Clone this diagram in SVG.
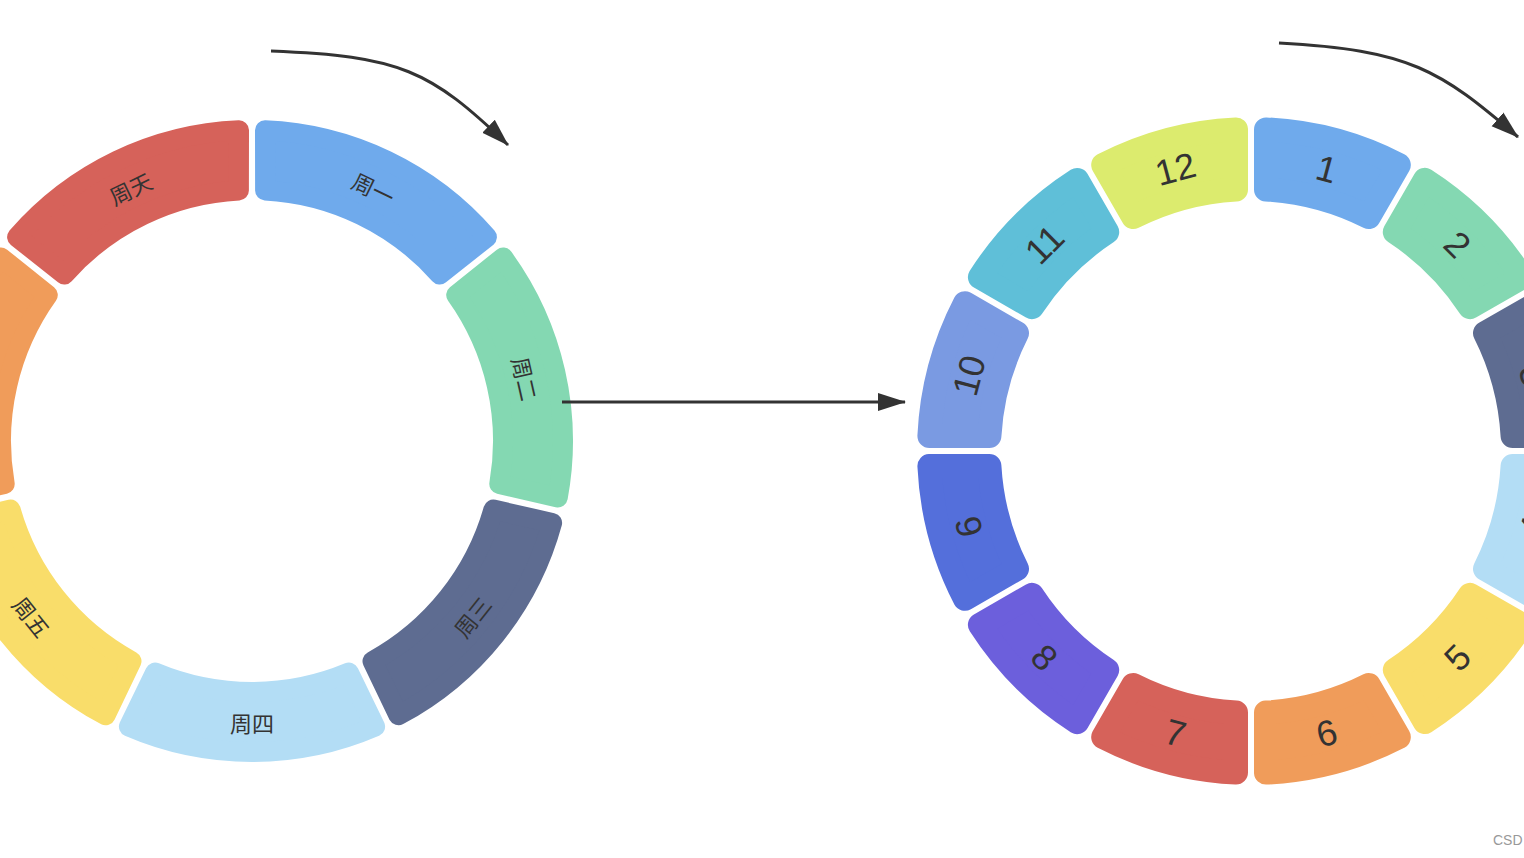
<svg xmlns="http://www.w3.org/2000/svg" width="1524" height="858" viewBox="0 0 1524 858">
<defs>
<style>
.s{stroke-linejoin:round}
.l{stroke-width:20}
.r{stroke-width:24}
.t{font-family:"Noto Sans CJK SC","Liberation Sans",sans-serif;font-size:22px;fill:#333;text-anchor:middle;dominant-baseline:central}
.n{font-family:"Liberation Sans","Noto Sans",sans-serif;font-size:36px;fill:#333;text-anchor:middle;dominant-baseline:central}
.c{fill:none;stroke:#333;stroke-width:3}
</style>
<marker id="ah" viewBox="0 0 28 20" refX="27" refY="10" markerWidth="28" markerHeight="20" markerUnits="userSpaceOnUse" orient="auto"><path d="M0,1 L28,10 L0,19 z" fill="#333"/></marker>
</defs>
<rect width="1524" height="858" fill="#fff"/>
<g id="week">
<g id="w1"><path class="s l" fill="#6FAAEC" stroke="#6FAAEC" d="M265,130.3 A311,311 0 0 1 486.9,237.1 L439.8,274.5 A251,251 0 0 0 265.1,190.4 Z"/><text class="t" transform="translate(373.9,187.8) rotate(25.71)">周一</text></g>
<g id="w2"><path class="s l" fill="#84D8B2" stroke="#84D8B2" d="M503.1,257.5 A311,311 0 0 1 557.8,497.4 L499.3,484 A251,251 0 0 0 456.2,295 Z"/><text class="t" transform="translate(525.9,378.5) rotate(77.14)">周二</text></g>
<g id="w3"><path class="s l" fill="#5E6C91" stroke="#5E6C91" d="M552.1,522.9 A311,311 0 0 1 398.5,715.3 L372.5,661.2 A251,251 0 0 0 493.4,509.6 Z"/><text class="t" transform="translate(471.7,616.2) rotate(-51.43)">周三</text></g>
<g id="w4"><path class="s l" fill="#B3DDF5" stroke="#B3DDF5" d="M375.1,726.6 A311,311 0 0 1 128.9,726.6 L155.1,672.5 A251,251 0 0 0 348.9,672.5 Z"/><text class="t" transform="translate(252,722)">周四</text></g>
<g id="w5"><path class="s l" fill="#F9DD6A" stroke="#F9DD6A" d="M105.5,715.3 A311,311 0 0 1 -48.1,522.9 L10.6,509.6 A251,251 0 0 0 131.5,661.2 Z"/><text class="t" transform="translate(32.3,616.2) rotate(51.43)">周五</text></g>
<g id="w6"><path class="s l" fill="#F09C5A" stroke="#F09C5A" d="M-53.8,497.4 A311,311 0 0 1 0.9,257.5 L47.8,295 A251,251 0 0 0 4.7,484 Z"/><text class="t" transform="translate(-21.9,378.5) rotate(-77.14)">周六</text></g>
<g id="w7"><path class="s l" fill="#D6625A" stroke="#D6625A" d="M17.1,237.1 A311,311 0 0 1 239,130.3 L238.9,190.4 A251,251 0 0 0 64.2,274.5 Z"/><text class="t" transform="translate(130.1,187.8) rotate(-25.71)">周天</text></g>
</g>
<g id="month">
<g id="m1"><path class="s r" fill="#6FAAEC" stroke="#6FAAEC" d="M1266,129.4 A322,322 0 0 1 1398.8,164.9 L1368.8,217 A262,262 0 0 0 1266,189.4 Z"/><text class="n" transform="translate(1326.6,169) rotate(15)">1</text></g>
<g id="m2"><path class="s r" fill="#84D8B2" stroke="#84D8B2" d="M1424.8,179.9 A322,322 0 0 1 1522.1,277.2 L1470,307.2 A262,262 0 0 0 1394.8,232 Z"/><text class="n" transform="translate(1457.5,244.5) rotate(45)">2</text></g>
<g id="m3"><path class="s r" fill="#5E6C91" stroke="#5E6C91" d="M1537.1,303.2 A322,322 0 0 1 1572.6,436 L1512.6,436 A262,262 0 0 0 1485,333.2 Z"/><text class="n" transform="translate(1533,375.4) rotate(75)">3</text></g>
<g id="m4"><path class="s r" fill="#B3DDF5" stroke="#B3DDF5" d="M1572.6,466 A322,322 0 0 1 1537.1,598.8 L1485,568.8 A262,262 0 0 0 1512.6,466 Z"/><text class="n" transform="translate(1533,526.6) rotate(-75)">4</text></g>
<g id="m5"><path class="s r" fill="#F9DD6A" stroke="#F9DD6A" d="M1522.1,624.8 A322,322 0 0 1 1424.8,722.1 L1394.8,670 A262,262 0 0 0 1470,594.8 Z"/><text class="n" transform="translate(1457.5,657.5) rotate(-45)">5</text></g>
<g id="m6"><path class="s r" fill="#F09C5A" stroke="#F09C5A" d="M1398.8,737.1 A322,322 0 0 1 1266,772.6 L1266,712.6 A262,262 0 0 0 1368.8,685 Z"/><text class="n" transform="translate(1326.6,733) rotate(-15)">6</text></g>
<g id="m7"><path class="s r" fill="#D6625A" stroke="#D6625A" d="M1236,772.6 A322,322 0 0 1 1103.2,737.1 L1133.2,685 A262,262 0 0 0 1236,712.6 Z"/><text class="n" transform="translate(1175.4,733) rotate(15)">7</text></g>
<g id="m8"><path class="s r" fill="#6C5FDC" stroke="#6C5FDC" d="M1077.2,722.1 A322,322 0 0 1 979.9,624.8 L1032,594.8 A262,262 0 0 0 1107.2,670 Z"/><text class="n" transform="translate(1044.5,657.5) rotate(45)">8</text></g>
<g id="m9"><path class="s r" fill="#546FDB" stroke="#546FDB" d="M964.9,598.8 A322,322 0 0 1 929.4,466 L989.4,466 A262,262 0 0 0 1017,568.8 Z"/><text class="n" transform="translate(969,526.6) rotate(75)">9</text></g>
<g id="m10"><path class="s r" fill="#7A9AE2" stroke="#7A9AE2" d="M929.4,436 A322,322 0 0 1 964.9,303.2 L1017,333.2 A262,262 0 0 0 989.4,436 Z"/><text class="n" transform="translate(969,375.4) rotate(-75)">10</text></g>
<g id="m11"><path class="s r" fill="#5FBFD8" stroke="#5FBFD8" d="M979.9,277.2 A322,322 0 0 1 1077.2,179.9 L1107.2,232 A262,262 0 0 0 1032,307.2 Z"/><text class="n" transform="translate(1044.5,244.5) rotate(-45)">11</text></g>
<g id="m12"><path class="s r" fill="#DCEB6E" stroke="#DCEB6E" d="M1103.2,164.9 A322,322 0 0 1 1236,129.4 L1236,189.4 A262,262 0 0 0 1133.2,217 Z"/><text class="n" transform="translate(1175.4,169) rotate(-15)">12</text></g>
</g>
<g id="connectors">
<path class="c" d="M271,51 C400,56 430,70 508,145" marker-end="url(#ah)"/>
<path class="c" d="M1279,43 C1410,50 1440,70 1518,137" marker-end="url(#ah)"/>
<path class="c" d="M562,402 L905,402" marker-end="url(#ah)"/>
</g>
<text x="1493" y="845" font-family="Liberation Sans,sans-serif" font-size="14" fill="#999">CSD</text>
</svg>
